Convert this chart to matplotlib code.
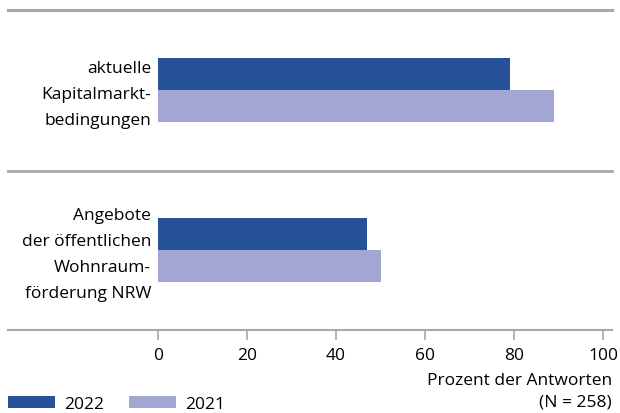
import matplotlib
matplotlib.use("Agg")
import matplotlib.pyplot as plt
from matplotlib.lines import Line2D
from matplotlib.transforms import ScaledTranslation
import numpy as np

# data
categories = ["aktuelle\nKapitalmarkt-\nbedingungen",
              "Angebote\nder öffentlichen\nWohnraum-\nförderung NRW"]
values_2022 = [79, 47]
values_2021 = [89, 50]
years = ["2022", "2021"]
x_ticks = [0, 20, 40, 60, 80, 100]

dark_blue = "#27529a"
lavender = "#a3a6d3"
gray = "#a8a8a8"

plt.rcParams["font.family"] = ["Open Sans", "DejaVu Sans"]
FS = 12.5

W, H = 620, 414
fig = plt.figure(figsize=(W / 100, H / 100), dpi=100)
ax = fig.add_axes([158 / W, 1 - 331 / H, (603 - 158) / W, (331 - 11) / H])

y = np.arange(len(categories))
bh = 0.2
b1 = ax.barh(y - bh / 2, values_2022, height=bh, color=dark_blue, label=years[0])
b2 = ax.barh(y + bh / 2, values_2021, height=bh, color=lavender, label=years[1])

ax.set_xlim(0, 100)
ax.set_ylim(1.5, -0.5)
for s in ax.spines.values():
    s.set_visible(False)

ax.set_yticks(y)
ax.set_yticklabels(categories, fontsize=FS, linespacing=1.85, ha="right")
ax.tick_params(axis="y", length=0, pad=5)
# lift the category labels a few pixels
for lab in ax.get_yticklabels():
    lab.set_transform(lab.get_transform() + ScaledTranslation(0, 3 / 100, fig.dpi_scale_trans))

ax.set_xticks(x_ticks)
ax.xaxis.set_ticks_position("bottom")
ax.tick_params(axis="x", direction="out", length=7, width=1.2, color=gray,
               labelsize=FS, pad=5)

# horizontal rules across the figure
def hrule(ypix, lw):
    fig.add_artist(Line2D([8 / W, 612 / W], [1 - ypix / H, 1 - ypix / H],
                          color=gray, lw=lw, transform=fig.transFigure))

hrule(11, 2.2)
hrule(172, 2.0)
hrule(331, 1.5)

fig.text(612 / W, 1 - 381 / H, "Prozent der Antworten", ha="right", va="center",
         fontsize=FS)
fig.text(612 / W, 1 - 403 / H, "(N = 258)", ha="right", va="center", fontsize=FS)

fig.legend(handles=[b1, b2], labels=years, loc="lower left",
           bbox_to_anchor=(8 / W, 1 - 413 / H), ncol=2, frameon=False,
           fontsize=FS, borderpad=0, borderaxespad=0, handlelength=2.7,
           handleheight=0.7, handletextpad=0.55, columnspacing=1.4)

fig.savefig("out.png", dpi=100)
